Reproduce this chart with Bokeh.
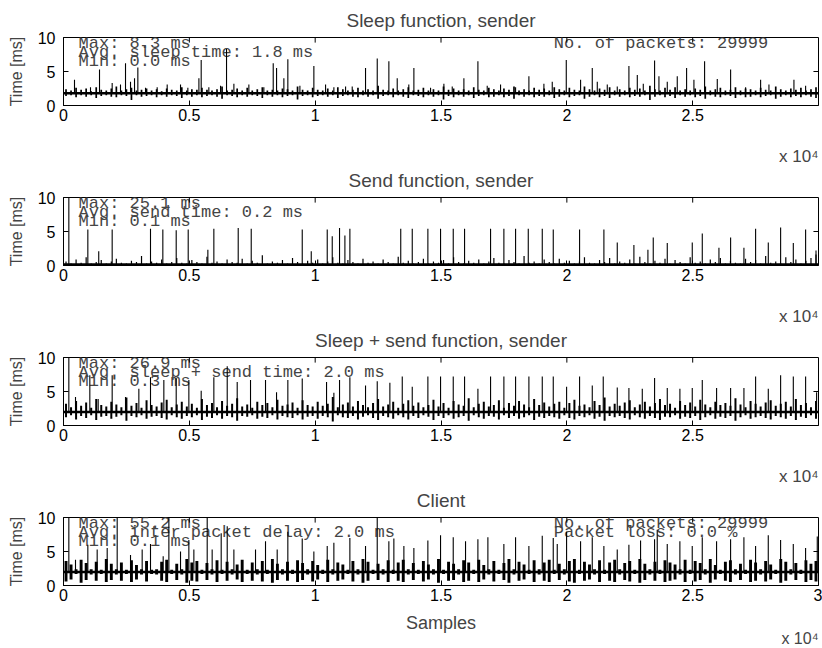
from bokeh.plotting import figure
from bokeh.layouts import column
from bokeh.models import ColumnDataSource, FixedTicker, Range1d, Span, Title
from bokeh.embed import file_html
from bokeh.resources import INLINE
from bokeh.core.properties import value

# ---------------- data ----------------
x_tick_values = [0, 5000, 10000, 15000, 20000, 25000, 30000]
x_tick_labels = ["0", "0.5", "1", "1.5", "2", "2.5", "3"]
y_tick_values = [0, 5, 10]
x_exponent_label = "x 10\u2074"

titles = ["Sleep function, sender", "Send function, sender",
          "Sleep + send function, sender", "Client"]

sleep_base = 1.8
send_base = 0.15
both_base = 2.0
client_base = 2.0

sleep_spike_x = [437, 1073, 1431, 1934, 2265, 2464, 2663, 2822, 2954, 3259, 3722, 4120, 4650, 4941, 5380,
                 5471, 5775, 6240, 6478, 6770, 7365, 7961, 8333, 8466, 8756, 8914, 9393, 9948, 10413, 10743,
                 11208, 11472, 12001, 12466, 12928, 13260, 13720, 13922, 14585, 15114, 15446, 15909, 16466,
                 16836, 17366, 17963, 18492, 19088, 19420, 19977, 20546, 21010, 21209, 21606, 22003, 22466,
                 22799, 23037, 23486, 23659, 23990, 24387, 24758, 25049, 25473, 25977, 26507, 27103, 27699,
                 28030, 29023, 29487]
sleep_spike_h = [3.8, 2.7, 5.3, 3.3, 3.1, 6.2, 3.5, 4.0, 5.6, 2.6, 2.7, 3.1, 3.1, 2.6, 4.0,
                 6.7, 2.7, 2.9, 8.3, 3.2, 3.1, 2.7, 6.2, 5.5, 4.0, 6.8, 2.9, 5.8, 3.1, 2.7,
                 2.8, 2.8, 5.5, 6.9, 6.5, 4.0, 3.1, 5.5, 2.6, 3.2, 2.8, 4.0, 6.5,
                 2.9, 3.1, 2.7, 4.3, 3.2, 3.5, 6.7, 3.8, 5.5, 3.5, 3.1, 2.8, 5.8,
                 4.5, 3.2, 6.6, 4.3, 3.5, 4.3, 5.5, 3.8, 6.5, 3.9, 5.3, 2.7, 3.8,
                 3.1, 3.8, 2.9]

send_spike_x = [212, 967, 1400, 1934, 3457, 3947, 4478, 4955, 5736, 5974, 6942, 7459, 9486, 9844, 10479,
                10678, 10968, 11181, 11379, 13400, 13857, 14478, 14982, 15486, 15936, 16969, 17498, 17963,
                18467, 19023, 19460, 20506, 21472, 22003, 22664, 23221, 23433, 23990, 24983, 25381, 26043,
                26507, 27036, 27500, 28004, 28494, 28998, 29487, 29900]
send_spike_h = [25.1, 5.3, 2.1, 5.3, 5.4, 5.3, 5.2, 5.3, 2.3, 5.4, 5.5, 5.4, 5.3, 2.1, 5.3,
                4.3, 5.5, 4.4, 5.4, 5.4, 5.4, 5.4, 5.4, 5.4, 5.4, 5.4, 5.4, 5.4,
                5.4, 5.4, 5.3, 5.3, 5.3, 3.4, 3.0, 2.3, 4.1, 3.3, 3.4, 4.7, 2.6,
                4.1, 2.6, 5.4, 3.4, 5.6, 3.3, 5.3, 2.2]

both_spike_x = [212, 477, 1046, 1378, 1934, 2464, 2994, 3457, 3987, 4478, 4981, 5471, 5974, 6505, 6902,
                7431, 8027, 8465, 8914, 9486, 10452, 10743, 10968, 11379, 12001, 12466, 12968, 13460, 13857,
                14478, 14982, 15486, 15936, 16466, 16969, 17498, 17963, 18492, 19023, 19460, 19990, 20506,
                21010, 21446, 22003, 22466, 22997, 23486, 23990, 24492, 24983, 25381, 25950, 26507, 27036,
                27500, 28004, 28494, 28998, 29487, 29924]
both_spike_h = [26.9, 4.2, 7.4, 3.9, 7.4, 4.2, 5.4, 7.1, 6.7, 6.9, 6.7, 5.1, 7.1, 8.7, 6.4,
                6.7, 6.7, 4.9, 6.7, 6.9, 6.4, 4.8, 6.7, 7.1, 5.9, 6.5, 6.3, 7.2, 5.7,
                7.2, 7.2, 7.2, 7.2, 5.4, 7.2, 7.2, 7.2, 7.2, 7.2, 7.2, 5.7, 7.2,
                5.9, 7.2, 5.6, 5.5, 5.4, 7.0, 5.5, 5.4, 5.5, 6.7, 5.5, 5.5, 5.5,
                7.2, 5.4, 7.4, 7.2, 7.2, 4.9]

client_spike_x = [212, 477, 967, 1338, 1736, 2133, 2663, 3126, 3457, 3961, 4187, 4650, 4981, 5180, 5710,
                  5907, 6266, 6505, 6770, 7630, 8027, 8491, 8914, 9486, 9948, 10479, 10743, 11379, 12001,
                  12466, 12928, 13127, 13525, 13922, 14478, 14982, 15486, 15975, 16466, 16863, 17498, 17963,
                  18492, 19023, 19460, 19619, 19990, 20546, 21010, 21472, 22003, 22466, 22930, 23486, 23592,
                  23990, 24492, 24983, 25381, 25950, 26507, 27036, 27500, 28004, 28494, 28998, 29487, 29951]
client_spike_h = [55.2, 3.8, 6.0, 5.3, 5.5, 12.0, 4.5, 5.3, 6.1, 4.3, 14.0, 5.0, 6.7, 5.3, 11.0,
                  5.3, 7.7, 8.7, 5.3, 5.3, 6.5, 5.3, 7.9, 6.9, 5.0, 5.8, 6.3, 7.0, 5.8,
                  10.5, 6.5, 6.9, 5.8, 5.5, 6.6, 7.4, 7.1, 6.5, 6.8, 7.1, 6.1, 7.1,
                  5.8, 7.3, 7.0, 6.1, 7.9, 6.5, 7.1, 5.8, 5.3, 6.0, 6.6, 6.8, 8.2,
                  6.1, 6.5, 5.8, 7.1, 6.5, 6.8, 7.1, 5.8, 7.4, 6.7, 6.1, 5.5, 7.2]

# short fluctuations around the baseline, one stroke every 200 samples
noise_x = list(range(100, 30000, 200))

sleep_noise_hi = [
    2.4, 2.2, 2.6, 2.3, 2.5, 2.1, 2.7, 2.3, 2.2, 2.5, 2.8, 2.2, 2.4, 2.6, 2.2, 2.3, 2.5, 2.2, 2.4, 2.1,
    2.5, 2.3, 2.2, 2.7, 2.2, 2.4, 2.3, 2.6, 2.3, 2.2, 2.4, 2.8, 2.2, 2.3, 2.5, 2.2, 2.6, 2.2, 2.4, 2.7,
    2.2, 2.3, 2.2, 2.5, 2.4, 2.2, 2.8, 2.3, 2.2, 2.6, 2.3, 2.2, 2.5, 2.2, 2.7, 2.4, 2.2, 2.3, 2.6, 2.2,
    2.4, 2.2, 2.9, 2.3, 2.2, 2.5, 2.2, 2.4, 2.7, 2.2, 2.3, 2.6, 2.2, 2.4, 2.2, 2.8, 2.3, 2.5, 2.2, 2.4,
    2.2, 2.7, 2.3, 2.2, 2.6, 2.4, 2.2, 2.5, 2.3, 2.8, 2.2, 2.4, 2.2, 2.6, 2.3, 2.5, 2.2, 2.7, 2.4, 2.2,
    2.6, 2.3, 2.2, 2.8, 2.4, 2.2, 2.5, 2.3, 2.7, 2.2, 2.4, 2.2, 2.6, 2.3, 2.5, 2.2, 2.9, 2.4, 2.2, 2.6,
    2.3, 2.7, 2.2, 2.4, 2.2, 2.5, 2.3, 2.8, 2.2, 2.4, 2.6, 2.2, 2.3, 2.7, 2.2, 2.5, 2.4, 2.2, 2.6, 2.3,
    2.2, 2.8, 2.4, 2.2, 2.5, 2.3, 2.6, 2.2, 2.4, 2.7]
sleep_noise_lo = [
    1.4, 1.5, 1.2, 1.5, 1.3, 1.5, 1.1, 1.4, 1.5, 1.3, 1.2, 1.5, 1.4, 0.8, 1.5, 1.3, 1.4, 1.5, 1.2, 1.5,
    1.3, 1.5, 1.4, 1.1, 1.5, 1.3, 1.5, 1.2, 1.4, 1.5, 1.3, 1.0, 1.5, 1.4, 1.2, 1.5, 1.3, 1.5, 1.4, 1.1,
    1.5, 1.3, 1.5, 1.2, 1.4, 1.5, 0.9, 1.4, 1.5, 1.2, 1.4, 1.5, 1.3, 1.5, 1.1, 1.4, 1.5, 1.3, 1.2, 1.5,
    1.3, 1.5, 1.0, 1.4, 1.5, 1.2, 1.5, 1.3, 1.1, 1.5, 1.4, 1.2, 1.5, 1.3, 1.5, 0.9, 1.4, 1.2, 1.5, 1.3,
    1.5, 1.1, 1.4, 1.5, 1.2, 1.3, 1.5, 1.2, 1.4, 1.0, 1.5, 1.3, 1.5, 1.2, 1.4, 1.3, 1.5, 1.1, 1.3, 1.5,
    1.2, 1.4, 1.5, 1.0, 1.3, 1.5, 1.2, 1.4, 1.1, 1.5, 1.3, 1.5, 1.2, 1.4, 1.3, 1.5, 0.8, 1.3, 1.5, 1.2,
    1.4, 1.1, 1.5, 1.3, 1.5, 1.2, 1.4, 1.0, 1.5, 1.3, 1.2, 1.5, 1.4, 1.1, 1.5, 1.2, 1.3, 1.5, 1.2, 1.4,
    1.5, 1.0, 1.3, 1.5, 1.2, 1.4, 1.2, 1.5, 1.3, 1.1]

send_noise_hi = [
    0.6, 0.3, 0.9, 0.4, 1.2, 0.3, 0.5, 0.8, 0.3, 0.6, 1.0, 0.4, 0.3, 0.7, 0.5, 1.4, 0.3, 0.6, 0.4, 0.9,
    0.3, 0.5, 1.1, 0.4, 0.3, 0.8, 0.5, 0.3, 1.3, 0.4, 0.6, 0.3, 0.9, 0.5, 0.4, 1.0, 0.3, 0.7, 0.4, 1.5,
    0.3, 0.6, 0.4, 0.8, 0.3, 1.1, 0.5, 0.3, 0.7, 0.4, 0.9, 0.3, 0.6, 1.2, 0.4, 0.3, 0.8, 0.5, 0.3, 1.0,
    0.4, 0.6, 0.3, 0.9, 0.5, 0.3, 1.3, 0.4, 0.7, 0.3, 0.5, 1.0, 0.3, 0.6, 0.4, 0.8, 0.3, 1.2, 0.5, 0.3,
    0.7, 0.4, 0.9, 0.3, 0.6, 1.1, 0.4, 0.3, 0.8, 0.5, 0.3, 1.4, 0.4, 0.6, 0.3, 0.9, 0.5, 0.3, 1.0, 0.4,
    0.7, 0.3, 0.6, 1.2, 0.4, 0.3, 0.8, 0.5, 1.1, 0.3, 0.6, 0.4, 0.9, 0.3, 1.3, 0.5, 0.3, 0.7, 0.4, 1.0,
    0.3, 0.8, 0.5, 0.3, 1.2, 0.4, 0.6, 0.3, 0.9, 0.5, 1.1, 0.3, 0.7, 0.4, 0.3, 1.0, 0.5, 0.8, 0.3, 1.4,
    0.4, 0.6, 0.3, 1.2, 0.5, 0.9, 0.3, 0.7, 1.1, 1.6]

both_noise_hi = [
    3.2, 2.7, 3.6, 2.9, 3.4, 2.6, 3.9, 3.0, 2.8, 3.5, 3.1, 2.7, 4.1, 2.9, 3.3, 2.6, 3.7, 3.0, 2.8, 3.4,
    3.8, 2.7, 3.1, 3.5, 2.8, 3.2, 2.6, 3.9, 3.0, 3.3, 2.7, 3.6, 2.9, 3.2, 4.0, 2.8, 3.1, 2.6, 3.5, 3.0,
    3.3, 2.7, 3.8, 2.9, 3.1, 3.4, 2.6, 3.7, 3.0, 2.8, 3.5, 2.9, 3.2, 4.2, 2.7, 3.1, 3.4, 2.8, 3.6, 3.0,
    2.7, 3.3, 3.9, 2.8, 3.1, 3.5, 2.6, 3.2, 3.7, 2.9, 3.4, 2.7, 3.0, 3.8, 2.8, 3.3, 2.6, 3.6, 3.1, 2.9,
    4.0, 2.7, 3.2, 3.5, 2.8, 3.0, 3.7, 2.6, 3.3, 2.9, 3.6, 3.1, 2.7, 3.9, 3.0, 3.4, 2.8, 3.2, 3.5, 2.6,
    3.3, 3.8, 2.9, 3.1, 2.7, 3.6, 3.0, 4.1, 2.8, 3.2, 2.9, 3.4, 3.7, 2.7, 3.1, 3.5, 2.8, 3.3, 3.9, 3.0,
    3.2, 2.6, 3.6, 3.0, 3.4, 2.8, 3.8, 3.1, 2.7, 3.5, 3.0, 3.3, 2.9, 4.0, 3.1, 2.7, 3.6, 3.2, 2.8, 3.4,
    3.7, 2.9, 3.2, 3.5, 2.8, 3.9, 3.0, 3.3, 2.7, 3.6]
both_noise_lo = [
    1.2, 1.5, 0.9, 1.4, 1.1, 1.5, 0.8, 1.3, 1.4, 1.0, 1.3, 1.5, 0.7, 1.4, 1.2, 1.5, 1.0, 1.3, 1.4, 1.1,
    0.9, 1.5, 1.2, 1.0, 1.4, 1.2, 1.5, 0.8, 1.3, 1.1, 1.5, 1.0, 1.4, 1.2, 0.7, 1.4, 1.3, 1.5, 1.0, 1.3,
    1.1, 1.5, 0.9, 1.4, 1.2, 1.1, 1.5, 0.9, 1.3, 1.4, 1.0, 1.4, 1.2, 0.6, 1.5, 1.2, 1.1, 1.4, 0.9, 1.3,
    1.5, 1.1, 0.8, 1.4, 1.2, 1.0, 1.5, 1.2, 0.9, 1.4, 1.1, 1.5, 1.3, 0.8, 1.4, 1.1, 1.5, 1.0, 1.2, 1.4,
    0.7, 1.5, 1.2, 1.0, 1.4, 1.3, 0.9, 1.5, 1.1, 1.4, 1.0, 1.2, 1.5, 0.8, 1.3, 1.1, 1.4, 1.2, 1.0, 1.5,
    1.1, 0.9, 1.4, 1.2, 1.5, 1.0, 1.3, 0.7, 1.4, 1.2, 1.4, 1.1, 0.9, 1.5, 1.2, 1.0, 1.4, 1.1, 0.8, 1.3,
    1.2, 1.5, 1.0, 1.3, 1.1, 1.4, 0.8, 1.2, 1.5, 1.0, 1.3, 1.1, 1.4, 0.7, 1.2, 1.5, 1.0, 1.2, 1.4, 1.1,
    0.9, 1.4, 1.2, 1.0, 1.4, 0.8, 1.3, 1.1, 1.5, 1.0]

client_noise_hi = [
    3.6, 3.1, 2.4, 3.8, 3.3, 2.4, 3.5, 2.3, 3.9, 3.2, 2.4, 3.4, 2.3, 3.7, 3.0, 2.4, 3.6, 2.3, 2.4, 3.5,
    3.8, 2.3, 3.2, 2.4, 3.9, 3.4, 3.6, 2.3, 3.3, 2.4, 3.7, 2.3, 3.5, 2.4, 3.1, 3.8, 2.3, 3.4, 2.4, 3.6,
    2.3, 3.9, 3.2, 2.4, 3.5, 2.3, 3.7, 3.3, 2.4, 3.6, 3.0, 2.3, 3.8, 2.4, 3.4, 3.1, 2.3, 3.6, 2.4, 3.9,
    3.5, 2.3, 3.2, 2.4, 3.7, 2.3, 3.4, 3.8, 2.4, 3.3, 2.3, 3.6, 3.1, 2.4, 3.9, 2.3, 3.5, 3.2, 2.4, 3.7,
    3.4, 2.3, 3.8, 3.0, 2.4, 3.6, 2.3, 3.3, 3.9, 2.4, 3.5, 3.1, 2.3, 3.7, 2.4, 3.4, 3.8, 2.3, 3.2, 2.4,
    3.6, 3.9, 2.3, 3.5, 3.1, 2.4, 3.7, 2.3, 3.4, 3.8, 2.4, 3.3, 3.6, 2.3, 3.9, 3.2, 2.4, 3.5, 2.3, 3.7,
    3.4, 3.1, 2.4, 3.8, 2.3, 3.6, 3.3, 2.4, 3.9, 3.0, 2.3, 3.5, 3.7, 2.4, 3.2, 2.3, 3.8, 3.4, 2.4, 3.6,
    3.1, 2.3, 3.9, 3.5, 2.4, 3.3, 2.3, 3.7, 3.2, 3.6]
client_noise_lo = [
    0.6, 0.9, 1.7, 0.4, 0.8, 1.6, 0.7, 1.7, 0.5, 0.8, 1.6, 0.7, 1.7, 0.5, 0.9, 1.6, 0.6, 1.7, 1.6, 0.7,
    0.5, 1.7, 0.8, 1.6, 0.4, 0.7, 0.6, 1.7, 0.8, 1.6, 0.5, 1.7, 0.7, 1.6, 0.9, 0.5, 1.7, 0.7, 1.6, 0.6,
    1.7, 0.4, 0.8, 1.6, 0.7, 1.7, 0.5, 0.8, 1.6, 0.6, 0.9, 1.7, 0.5, 1.6, 0.7, 0.9, 1.7, 0.6, 1.6, 0.4,
    0.7, 1.7, 0.8, 1.6, 0.5, 1.7, 0.7, 0.5, 1.6, 0.8, 1.7, 0.6, 0.9, 1.6, 0.4, 1.7, 0.7, 0.8, 1.6, 0.5,
    0.7, 1.7, 0.5, 0.9, 1.6, 0.6, 1.7, 0.8, 0.4, 1.6, 0.7, 0.9, 1.7, 0.5, 1.6, 0.7, 0.5, 1.7, 0.8, 1.6,
    0.6, 0.4, 1.7, 0.7, 0.9, 1.6, 0.5, 1.7, 0.7, 0.5, 1.6, 0.8, 0.6, 1.7, 0.4, 0.8, 1.6, 0.7, 1.7, 0.5,
    0.7, 0.9, 1.6, 0.5, 1.7, 0.6, 0.8, 1.6, 0.4, 0.9, 1.7, 0.7, 0.5, 1.6, 0.8, 1.7, 0.5, 0.7, 1.6, 0.6,
    0.9, 1.7, 0.4, 0.7, 1.6, 0.8, 1.7, 0.5, 0.8, 0.6]

sleep_text = ["Max: 8.3 ms", "Avg. sleep time: 1.8 ms", "Min: 0.0 ms"]
send_text = ["Max: 25.1 ms", "Avg. send time: 0.2 ms", "Min: 0.1 ms"]
both_text = ["Max: 26.9 ms", "Avg. sleep + send time: 2.0 ms", "Min: 0.3 ms"]
client_text = ["Max: 55.2 ms", "Avg. inter packet delay: 2.0 ms", "Min: 0.1 ms"]
sleep_text_right = ["No. of packets: 29999"]
client_text_right = ["No. of packets: 29999", "Packet loss: 0.0 %"]

# ---------------- styling ----------------
SANS = "Liberation Sans"
MONO = "Liberation Mono"
TEXT_Y = [9.1, 7.75, 6.4]
TEXT_LEFT_X = 600
TEXT_RIGHT_X = 19484
TICK_LEN_Y = 0.75     # 5 px inward ticks on the mirrored top edge
TICK_LEN_X = 200      # 5 px inward tick on the mirrored right edge


def style_axis(ax):
    ax.major_tick_in = 5
    ax.major_tick_out = 0
    ax.minor_tick_line_color = None
    ax.axis_line_color = "black"
    ax.major_tick_line_color = "black"
    ax.major_label_text_font = SANS
    ax.major_label_text_font_size = "16px"
    ax.major_label_text_color = "black"


def exponent_title(size, standoff):
    return Title(text=x_exponent_label, align="right", text_font=SANS, text_font_size=size,
                 text_font_style="normal", standoff=standoff, offset=0)


def panel(title, base, sx, sh, nhi, nlo, left_lines, right_lines, noise_w, x_end, first, last):
    top_border = 37 if first else 51
    bottom_border = 63 if last else 41
    p = figure(frame_width=755, frame_height=68, output_backend="svg", toolbar_location=None,
               title=None, x_range=Range1d(0, x_end), y_range=Range1d(0, 10),
               min_border_left=63, min_border_right=4, min_border_top=top_border,
               min_border_bottom=bottom_border,
               background_fill_color="white", border_fill_color="white")
    p.add_layout(Title(text=title, align="center", text_font=SANS, text_font_size="19px",
                       text_font_style="normal", standoff=13), "above")
    if not first:
        # exponent belonging to the x axis of the panel above this one
        p.add_layout(exponent_title("17px", -8), "above")
    p.xgrid.visible = False
    p.ygrid.visible = False
    p.outline_line_color = "black"
    p.outline_line_width = 1

    xa = p.xaxis[0]
    xa.ticker = FixedTicker(ticks=x_tick_values)
    xa.major_label_overrides = {v: l for v, l in zip(x_tick_values, x_tick_labels)}
    style_axis(xa)
    xa.major_label_standoff = 3
    ya = p.yaxis[0]
    ya.ticker = FixedTicker(ticks=y_tick_values)
    style_axis(ya)
    ya.major_label_standoff = 8
    ya.axis_label = "Time [ms]"
    ya.axis_label_text_font = SANS
    ya.axis_label_text_font_size = "16px"
    ya.axis_label_text_font_style = "normal"
    ya.axis_label_standoff = 10
    if last:
        xa.axis_label = "Samples"
        xa.axis_label_text_font = SANS
        xa.axis_label_text_font_size = "18px"
        xa.axis_label_text_font_style = "normal"
        xa.axis_label_standoff = 9
        p.add_layout(exponent_title("16px", -16), "below")

    # annotation texts (below the data)
    tsrc = ColumnDataSource(dict(x=[TEXT_LEFT_X] * len(left_lines), y=TEXT_Y[:len(left_lines)],
                                 t=left_lines))
    p.text(x="x", y="y", text="t", source=tsrc, text_font=value(MONO),
           text_font_size=value("17px"), text_baseline="middle", text_color="#454545")
    if right_lines:
        rsrc = ColumnDataSource(dict(x=[TEXT_RIGHT_X] * len(right_lines), y=TEXT_Y[:len(right_lines)],
                                     t=right_lines))
        p.text(x="x", y="y", text="t", source=rsrc, text_font=value(MONO),
               text_font_size=value("17px"), text_baseline="middle", text_color="#454545")

    n = min(len(noise_x), len(nhi), len(nlo))
    nsrc = ColumnDataSource(dict(x=noise_x[:n], hi=nhi[:n], lo=nlo[:n]))
    p.segment(x0="x", y0="lo", x1="x", y1="hi", source=nsrc, line_color="black", line_width=noise_w)

    ssrc = ColumnDataSource(dict(x=sx, h=sh, b=[base] * len(sx)))
    p.segment(x0="x", y0="b", x1="x", y1="h", source=ssrc, line_color="black", line_width=1.1)

    p.add_layout(Span(location=base, dimension="width", line_color="black", line_width=2.5))

    # mirrored inward ticks on the top and right edges of the box
    tt = [t for t in x_tick_values if 0 < t < x_end]
    p.segment(x0=tt, y0=[10] * len(tt), x1=tt, y1=[10 - TICK_LEN_Y] * len(tt),
              line_color="black", line_width=1)
    rt = [t for t in y_tick_values if 0 < t < 10]
    p.segment(x0=[x_end] * len(rt), y0=rt, x1=[x_end - TICK_LEN_X] * len(rt), y1=rt,
              line_color="black", line_width=1)
    return p


p1 = panel(titles[0], sleep_base, sleep_spike_x, sleep_spike_h, sleep_noise_hi, sleep_noise_lo,
           sleep_text, sleep_text_right, 1.7, 29999, True, False)
p2 = panel(titles[1], send_base, send_spike_x, send_spike_h, send_noise_hi,
           [send_base] * len(send_noise_hi), send_text, None, 1.2, 29999, False, False)
p3 = panel(titles[2], both_base, both_spike_x, both_spike_h, both_noise_hi, both_noise_lo,
           both_text, None, 2.0, 29999, False, False)
p4 = panel(titles[3], client_base, client_spike_x, client_spike_h, client_noise_hi, client_noise_lo,
           client_text, client_text_right, 2.9, 30000, False, True)

layout = column(p1, p2, p3, p4, spacing=0)
open("out.html", "w").write(file_html(layout, INLINE))
